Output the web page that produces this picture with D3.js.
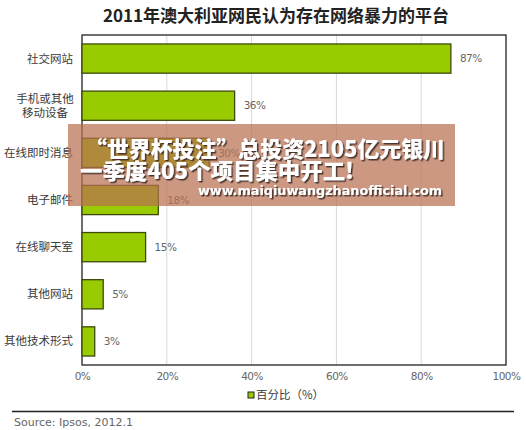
<!DOCTYPE html>
<html>
<head>
<meta charset="utf-8">
<script src="https://d3js.org/d3.v7.min.js"></script>
<style>
  html, body { margin: 0; padding: 0; background: #fff; }
  svg { display: block; }
  .cat { font: 11.5px "Noto Sans CJK SC", sans-serif; fill: #3a3a3a; }
  .num { font: 10.5px "DejaVu Sans", sans-serif; fill: #666; letter-spacing: -0.5px; }
  .banner { font-family: "Noto Sans CJK SC", sans-serif; font-weight: 900; fill: #fff; }
</style>
</head>
<body>
<svg id="chart" width="526" height="430"></svg>
<script>
const categories = [['社交网站'], ['手机或其他', '移动设备'], ['在线即时消息'], ['电子邮件'], ['在线聊天室'], ['其他网站'], ['其他技术形式']];
const values = [87, 36, 30, 18, 15, 5, 3];
const xTicks = [0, 20, 40, 60, 80, 100];
const title = '2011年澳大利亚网民认为存在网络暴力的平台';
const legendLabel = '百分比（%）';
const source = 'Source: Ipsos, 2012.1';
const bannerLines = ['“世界杯投注”总投资2105亿元银川', '一季度405个项目集中开工!', 'www.maiqiuwangzhanofficial.com'];

const svg = d3.select('#chart');
const plot = {left: 82, right: 506, top: 35, bottom: 365};

const x = d3.scaleLinear().domain([0, 100]).range([plot.left, plot.right]);
const y = d3.scaleBand().domain(d3.range(categories.length)).range([plot.top, plot.bottom]).paddingInner(0.38).paddingOuter(0.19);

// shadow filter for banner text
const defs = svg.append('defs');
const f = defs.append('filter').attr('id', 'shadow').attr('x', '-10%').attr('y', '-30%').attr('width', '120%').attr('height', '160%');
f.append('feDropShadow').attr('dx', 1.5).attr('dy', 1.5).attr('stdDeviation', 0.6).attr('flood-color', '#3a2a22').attr('flood-opacity', 0.9);

svg.append('text')
  .attr('x', 276).attr('y', 22)
  .attr('text-anchor', 'middle')
  .style('font', 'bold 17px "Noto Sans CJK SC", sans-serif')
  .attr('fill', '#222')
  .text(title);

// grid lines
svg.append('g')
  .selectAll('line')
  .data(xTicks.slice(1, -1))
  .join('line')
  .attr('x1', d => x(d)).attr('x2', d => x(d))
  .attr('y1', plot.top).attr('y2', plot.bottom)
  .attr('stroke', '#d8d8d8').attr('stroke-width', 1);

// frame
svg.append('rect')
  .attr('x', plot.left).attr('y', plot.top)
  .attr('width', plot.right - plot.left).attr('height', plot.bottom - plot.top)
  .attr('fill', 'none').attr('stroke', '#222').attr('stroke-width', 1.3);

// bars
svg.append('g')
  .selectAll('rect')
  .data(values)
  .join('rect')
  .attr('x', x(0))
  .attr('y', (d, i) => y(i))
  .attr('width', d => x(d) - x(0))
  .attr('height', y.bandwidth())
  .attr('fill', '#99cc00')
  .attr('stroke', '#3d4a0a').attr('stroke-width', 1.3);

// value labels
svg.append('g')
  .selectAll('text')
  .data(values)
  .join('text')
  .attr('class', 'num')
  .attr('x', d => x(d) + 9)
  .attr('y', (d, i) => y(i) + y.bandwidth() / 2)
  .attr('dy', '0.35em')
  .text(d => d + '%');

// category labels
const cat = svg.append('g')
  .selectAll('text')
  .data(categories)
  .join('text')
  .attr('class', 'cat')
  .attr('text-anchor', d => d.length > 1 ? 'middle' : 'end')
  .attr('y', (d, i) => y(i) + y.bandwidth() / 2);
cat.selectAll('tspan')
  .data(d => d.map((t, k) => ({t, k, n: d.length})))
  .join('tspan')
  .attr('x', d => d.n > 1 ? 45 : 73)
  .attr('dy', d => d.k === 0 ? (0.35 - (d.n - 1) * 0.62) + 'em' : '1.25em')
  .text(d => d.t);

// x axis labels
const axis = d3.axisBottom(x).tickValues(xTicks).tickFormat(d => d + '%').tickSize(0).tickPadding(8);
const gAxis = svg.append('g').attr('transform', `translate(0,${plot.bottom})`).call(axis);
gAxis.select('.domain').remove();
gAxis.selectAll('text').attr('class', 'num').style('font-size', '10.5px').attr('fill', '#666');

// legend
svg.append('rect')
  .attr('x', 248).attr('y', 392).attr('width', 6).attr('height', 6)
  .attr('fill', '#99cc00').attr('stroke', '#222').attr('stroke-width', 1);
svg.append('text')
  .attr('class', 'cat')
  .attr('x', 256).attr('y', 395).attr('dy', '0.35em')
  .text(legendLabel);

// source
svg.append('line')
  .attr('x1', 12).attr('x2', 514).attr('y1', 411.5).attr('y2', 411.5)
  .attr('stroke', '#222').attr('stroke-width', 1.3);
svg.append('text')
  .attr('x', 14).attr('y', 422).attr('dy', '0.35em')
  .style('font', '11px "DejaVu Sans", sans-serif')
  .attr('fill', '#666')
  .text(source);

// banner overlay
svg.append('rect')
  .attr('x', 68).attr('y', 124).attr('width', 387).attr('height', 82)
  .attr('fill', 'rgb(185,112,82)').attr('opacity', 0.72);
const banner = svg.append('g').attr('filter', 'url(#shadow)');
banner.append('text').attr('class', 'banner')
  .attr('x', 85).attr('y', 157).style('font-size', '22px')
  .attr('textLength', 360).attr('lengthAdjust', 'spacingAndGlyphs')
  .text(bannerLines[0]);
banner.append('text').attr('class', 'banner')
  .attr('x', 80).attr('y', 179).style('font-size', '22px')
  .attr('textLength', 274).attr('lengthAdjust', 'spacingAndGlyphs')
  .text(bannerLines[1]);
banner.append('text').attr('class', 'banner')
  .attr('x', 198).attr('y', 195)
  .style('font-size', '13px').style('font-family', '"DejaVu Sans", sans-serif').style('font-weight', 'bold')
  .attr('textLength', 244).attr('lengthAdjust', 'spacingAndGlyphs')
  .text(bannerLines[2]);
</script>
</body>
</html>
